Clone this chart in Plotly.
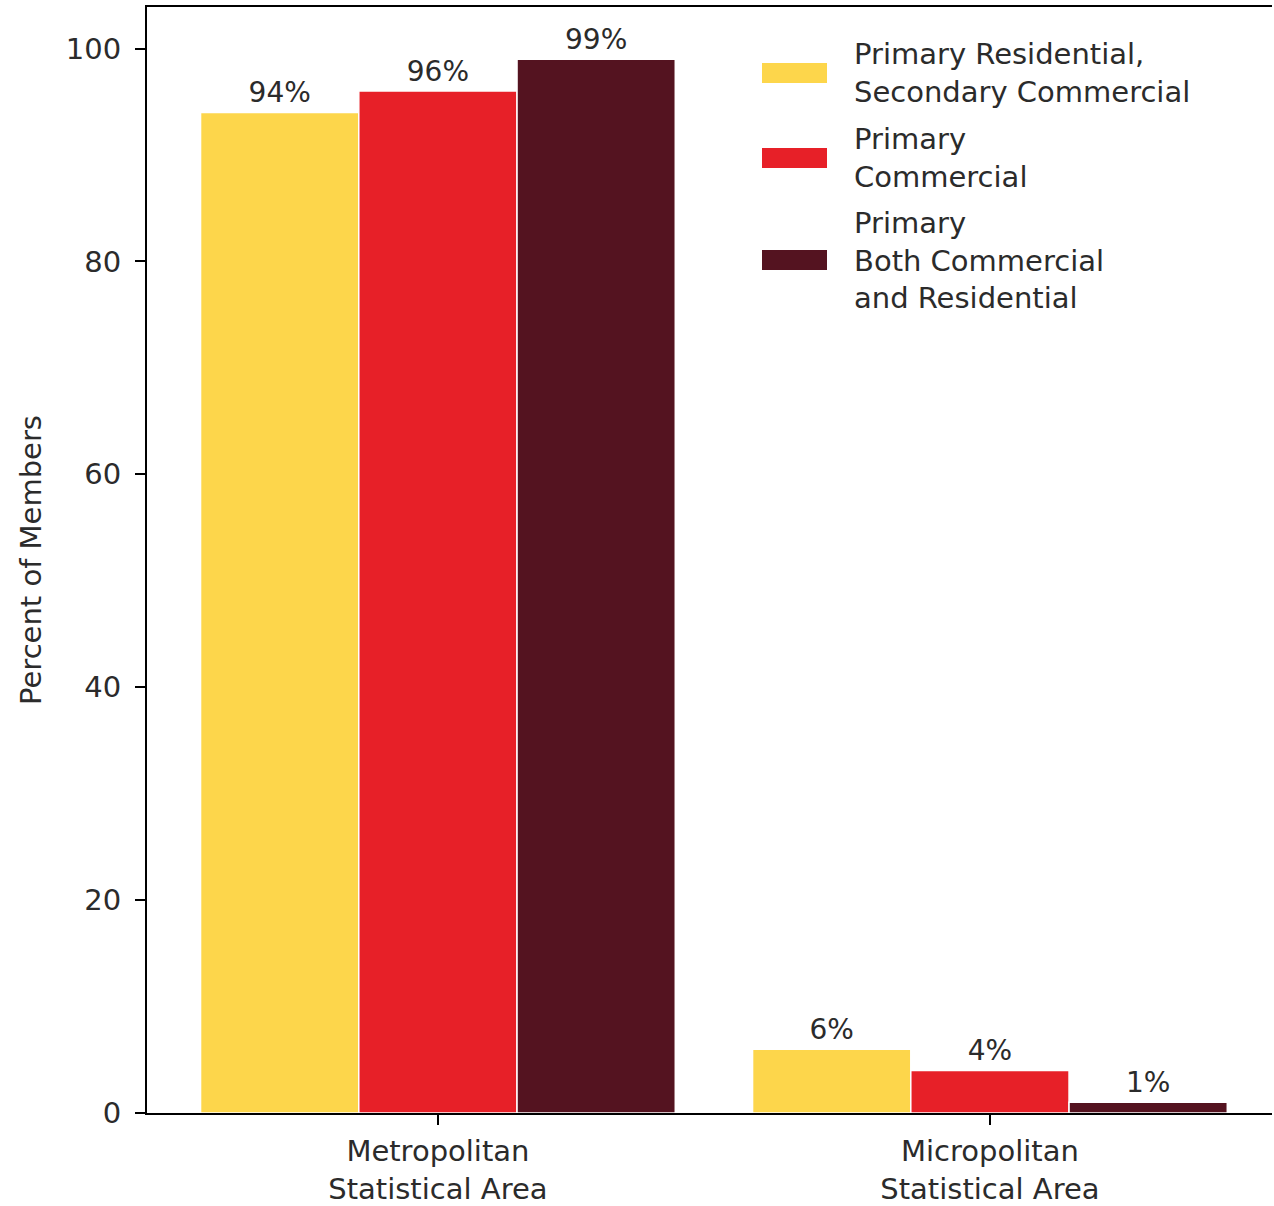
import plotly.graph_objects as go

# Data
categories = ["Metropolitan<br>Statistical Area", "Micropolitan<br>Statistical Area"]
series_names = [
    "Primary Residential,<br>Secondary Commercial",
    "Primary<br>Commercial",
    "Primary<br>Both Commercial<br>and Residential",
]
series_values = [
    [94, 6],
    [96, 4],
    [99, 1],
]
series_colors = ["#FDD64B", "#E72028", "#541320"]
y_ticks = [0, 20, 40, 60, 80, 100]

FONT = "DejaVu Sans"
TEXT_COLOR = "#2b2b2b"
SIZE = 29

W, H = 1274, 1206
L, R, T, B = 147, 2, 7, 93


def px_x(x):
    return (x - L) / (W - L - R)


def px_y(y):
    return (H - B - y) / (H - T - B)


fig = go.Figure()
for name, vals, color in zip(series_names, series_values, series_colors):
    fig.add_trace(go.Bar(
        x=categories,
        y=vals,
        name=name,
        marker=dict(color=color, line=dict(color="white", width=1.5)),
        text=[f"{v}%" for v in vals],
        textposition="outside",
        textfont=dict(family=FONT, size=28, color=TEXT_COLOR),
        cliponaxis=False,
        showlegend=False,
    ))

# Custom legend with wide swatches
legend_rows = [73, 158, 260]
for name, color, yc in zip(series_names, series_colors, legend_rows):
    fig.add_shape(type="rect", xref="paper", yref="paper",
                  x0=px_x(762), x1=px_x(827), y0=px_y(yc + 10), y1=px_y(yc - 10),
                  fillcolor=color, line=dict(width=0))
    fig.add_annotation(xref="paper", yref="paper", x=px_x(852), y=px_y(yc),
                       xanchor="left", yanchor="middle", align="left",
                       text=name, showarrow=False,
                       font=dict(family=FONT, size=SIZE, color=TEXT_COLOR))

fig.update_layout(
    width=W, height=H,
    margin=dict(l=L, r=R, t=T, b=B),
    paper_bgcolor="white", plot_bgcolor="white",
    barmode="group", bargap=0.14, bargroupgap=0,
    font=dict(family=FONT, size=SIZE, color=TEXT_COLOR),
)
fig.update_xaxes(
    type="category", range=[-0.527, 1.511], automargin=False,
    showline=True, linecolor="black", linewidth=2, mirror=True,
    ticks="outside", ticklen=10, tickwidth=2, tickcolor="black",
    ticklabelstandoff=1,
    tickfont=dict(family=FONT, size=SIZE, color=TEXT_COLOR),
    showgrid=False,
)
fig.update_yaxes(
    range=[0, 103.9], tickvals=y_ticks, automargin=False,
    showline=True, linecolor="black", linewidth=2,
    ticks="outside", ticklen=10, tickwidth=2, tickcolor="black",
    ticklabelstandoff=8,
    tickfont=dict(family=FONT, size=SIZE, color=TEXT_COLOR),
    showgrid=False, zeroline=False,
    title=dict(text="Percent of Members", font=dict(family=FONT, size=SIZE, color=TEXT_COLOR), standoff=16),
)

fig.write_html("out.html")
